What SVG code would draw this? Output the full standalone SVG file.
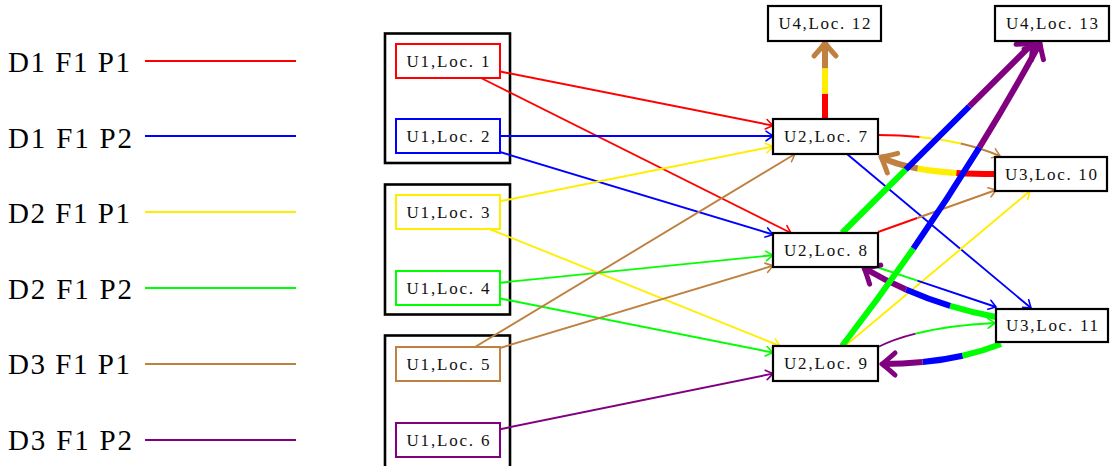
<svg xmlns="http://www.w3.org/2000/svg" width="1114" height="466" viewBox="0 0 1114 466">
<style>
.lg{font-family:"Liberation Serif",serif;font-size:29px;fill:#000}
.nl{font-family:"Liberation Serif",serif;font-size:17px;fill:#111;text-anchor:middle}
.grp{fill:none;stroke:#000;stroke-width:2.6}
.nb{fill:#fff;stroke:#000;stroke-width:2.2}
.cb{fill:#fff;stroke-width:2}
.t{fill:none;stroke-width:1.9}
.k{fill:none;stroke-width:6}
.r{stroke:#ff0000}.b{stroke:#0000ff}.y{stroke:#ffee00}.g{stroke:#00ff00}.w{stroke:#bf8040}.p{stroke:#800080}
</style>
<defs>
<marker id="tr" viewBox="-10 -7 12 14" refX="0" refY="0" markerWidth="12" markerHeight="14" markerUnits="userSpaceOnUse" orient="auto" overflow="visible"><path d="M-7,-4.8 Q-1.5,-1 0,0 Q-1.5,1 -7,4.8" fill="none" stroke="#ff0000" stroke-width="1.6" stroke-linecap="round"/></marker>
<marker id="tb" viewBox="-10 -7 12 14" refX="0" refY="0" markerWidth="12" markerHeight="14" markerUnits="userSpaceOnUse" orient="auto" overflow="visible"><path d="M-7,-4.8 Q-1.5,-1 0,0 Q-1.5,1 -7,4.8" fill="none" stroke="#0000ff" stroke-width="1.6" stroke-linecap="round"/></marker>
<marker id="ty" viewBox="-10 -7 12 14" refX="0" refY="0" markerWidth="12" markerHeight="14" markerUnits="userSpaceOnUse" orient="auto" overflow="visible"><path d="M-7,-4.8 Q-1.5,-1 0,0 Q-1.5,1 -7,4.8" fill="none" stroke="#ffee00" stroke-width="1.6" stroke-linecap="round"/></marker>
<marker id="tg" viewBox="-10 -7 12 14" refX="0" refY="0" markerWidth="12" markerHeight="14" markerUnits="userSpaceOnUse" orient="auto" overflow="visible"><path d="M-7,-4.8 Q-1.5,-1 0,0 Q-1.5,1 -7,4.8" fill="none" stroke="#00ff00" stroke-width="1.6" stroke-linecap="round"/></marker>
<marker id="tw" viewBox="-10 -7 12 14" refX="0" refY="0" markerWidth="12" markerHeight="14" markerUnits="userSpaceOnUse" orient="auto" overflow="visible"><path d="M-7,-4.8 Q-1.5,-1 0,0 Q-1.5,1 -7,4.8" fill="none" stroke="#bf8040" stroke-width="1.6" stroke-linecap="round"/></marker>
<marker id="tp" viewBox="-10 -7 12 14" refX="0" refY="0" markerWidth="12" markerHeight="14" markerUnits="userSpaceOnUse" orient="auto" overflow="visible"><path d="M-7,-4.8 Q-1.5,-1 0,0 Q-1.5,1 -7,4.8" fill="none" stroke="#800080" stroke-width="1.6" stroke-linecap="round"/></marker>
<marker id="kw" viewBox="-20 -16 26 32" refX="0" refY="0" markerWidth="26" markerHeight="32" markerUnits="userSpaceOnUse" orient="auto" overflow="visible"><path d="M-13,-11 Q-3,-2 0,0 Q-3,2 -13,11" fill="none" stroke="#bf8040" stroke-width="5" stroke-linecap="round" stroke-linejoin="round"/></marker>
<marker id="kp" viewBox="-20 -16 26 32" refX="0" refY="0" markerWidth="26" markerHeight="32" markerUnits="userSpaceOnUse" orient="auto" overflow="visible"><path d="M-13,-11 Q-3,-2 0,0 Q-3,2 -13,11" fill="none" stroke="#800080" stroke-width="5" stroke-linecap="round" stroke-linejoin="round"/></marker>
</defs>

<g id="legend">
<text class="lg" x="8" y="72" textLength="122">D1 F1 P1</text>
<line x1="145" y1="61" x2="296" y2="61" stroke="#ff0000" stroke-width="2"/>
<text class="lg" x="8" y="147.5" textLength="124">D1 F1 P2</text>
<line x1="145" y1="136" x2="296" y2="136" stroke="#0000ff" stroke-width="2"/>
<text class="lg" x="8" y="223" textLength="122">D2 F1 P1</text>
<line x1="145" y1="212" x2="296" y2="212" stroke="#ffee00" stroke-width="2"/>
<text class="lg" x="8" y="298.5" textLength="124">D2 F1 P2</text>
<line x1="145" y1="288" x2="296" y2="288" stroke="#00ff00" stroke-width="2"/>
<text class="lg" x="8" y="374" textLength="122">D3 F1 P1</text>
<line x1="145" y1="364" x2="296" y2="364" stroke="#bf8040" stroke-width="2"/>
<text class="lg" x="8" y="450" textLength="124">D3 F1 P2</text>
<line x1="145" y1="440" x2="296" y2="440" stroke="#800080" stroke-width="2"/>
</g>

<g id="groups">
<rect class="grp" x="385" y="33.5" width="125" height="129.5"/>
<rect class="grp" x="385" y="184.5" width="125" height="130"/>
<rect class="grp" x="385" y="335.5" width="125" height="140"/>
</g>

<g id="connectors">
<path class="t r" d="M500,71.5 L773,125.6" marker-end="url(#tr)"/>
<path class="t r" d="M481,78 L791,233" marker-end="url(#tr)"/>
<path class="t b" d="M500,136 L773,136" marker-end="url(#tb)"/>
<path class="t b" d="M500,152 L773,234.5" marker-end="url(#tb)"/>
<path class="t y" d="M500,201.3 L773,146.5" marker-end="url(#ty)"/>
<path class="t y" d="M489.5,229 L780,346" marker-end="url(#ty)"/>
<path class="t g" d="M500,282.7 L773,255.2" marker-end="url(#tg)"/>
<path class="t g" d="M500,298.5 L773,352.6" marker-end="url(#tg)"/>
<path class="t w" d="M475,347 L795,154" marker-end="url(#tw)"/>
<path class="t w" d="M500,348 L773,265.7" marker-end="url(#tw)"/>
<path class="t p" d="M500,429.2 L773,373.6" marker-end="url(#tp)"/>

<path class="t b" d="M847,154 L1031,308" marker-end="url(#tb)"/>
<path class="t y" d="M845,346 L1030,191" marker-end="url(#ty)"/>

<path class="t r" pathLength="90" stroke-dasharray="30 90" d="M878,232 L996,190"/>
<path class="t w" pathLength="90" stroke-dasharray="0 30 60 90" d="M878,232 L996,190" marker-end="url(#tw)"/>

<path class="t r" pathLength="90" stroke-dasharray="30 90" d="M878,135 Q950,135 1000,156"/>
<path class="t y" pathLength="90" stroke-dasharray="0 30 30 90" d="M878,135 Q950,135 1000,156"/>
<path class="t w" pathLength="90" stroke-dasharray="0 60 30 90" d="M878,135 Q950,135 1000,156" marker-end="url(#tw)"/>

<path class="t g" pathLength="90" stroke-dasharray="30 90" d="M878,267.5 L996,307"/>
<path class="t b" pathLength="90" stroke-dasharray="0 30 60 90" d="M878,267.5 L996,307" marker-end="url(#tb)"/>

<path class="t p" pathLength="90" stroke-dasharray="30 90" d="M878,347 Q918,327 995,323"/>
<path class="t g" pathLength="90" stroke-dasharray="0 30 60 90" d="M878,347 Q918,327 995,323" marker-end="url(#tg)"/>

<path class="k r" pathLength="90" stroke-dasharray="30 90" d="M825,119 L825,43"/>
<path class="k y" pathLength="90" stroke-dasharray="0 30 30 90" d="M825,119 L825,43"/>
<path class="k w" pathLength="90" stroke-dasharray="0 60 30 90" d="M825,119 L825,43" marker-end="url(#kw)"/>

<path class="k r" pathLength="90" stroke-dasharray="30 90" d="M995,174 Q913,174 881,157"/>
<path class="k y" pathLength="90" stroke-dasharray="0 30 30 90" d="M995,174 Q913,174 881,157"/>
<path class="k w" pathLength="90" stroke-dasharray="0 60 30 90" d="M995,174 Q913,174 881,157" marker-end="url(#kw)"/>

<path class="k g" pathLength="90" stroke-dasharray="30 90" d="M996,317 Q925,304 864,268"/>
<path class="k b" pathLength="90" stroke-dasharray="0 30 30 90" d="M996,317 Q925,304 864,268"/>
<path class="k p" pathLength="90" stroke-dasharray="0 60 30 90" d="M996,317 Q925,304 864,268" marker-end="url(#kp)"/>

<path class="k g" pathLength="90" stroke-dasharray="30 90" d="M1001,344 Q950,364 882,364"/>
<path class="k b" pathLength="90" stroke-dasharray="0 30 30 90" d="M1001,344 Q950,364 882,364"/>
<path class="k p" pathLength="90" stroke-dasharray="0 60 30 90" d="M1001,344 Q950,364 882,364" marker-end="url(#kp)"/>

<path class="k g" pathLength="90" stroke-dasharray="30 90" d="M842,233 L1033,43"/>
<path class="k b" pathLength="90" stroke-dasharray="0 30 30 90" d="M842,233 L1033,43"/>
<path class="k p" pathLength="90" stroke-dasharray="0 60 30 90" d="M842,233 L1033,43" marker-end="url(#kp)"/>

<path class="k g" pathLength="90" stroke-dasharray="30 90" d="M842,346 Q954,201 1040,43"/>
<path class="k b" pathLength="90" stroke-dasharray="0 30 30 90" d="M842,346 Q954,201 1040,43"/>
<path class="k p" pathLength="90" stroke-dasharray="0 60 30 90" d="M842,346 Q954,201 1040,43" marker-end="url(#kp)"/>
</g>

<g id="n1"><rect class="cb r" x="396" y="44" width="104" height="34"/><text class="nl" x="448" y="66.5" textLength="83">U1,Loc. 1</text></g>
<g id="n2"><rect class="cb b" x="396" y="119" width="104" height="34"/><text class="nl" x="448" y="141.5" textLength="83">U1,Loc. 2</text></g>
<g id="n3"><rect class="cb y" x="396" y="195" width="104" height="34"/><text class="nl" x="448" y="217.5" textLength="83">U1,Loc. 3</text></g>
<g id="n4"><rect class="cb g" x="396" y="271" width="104" height="34"/><text class="nl" x="448" y="293.5" textLength="83">U1,Loc. 4</text></g>
<g id="n5"><rect class="cb w" x="396" y="347" width="104" height="34"/><text class="nl" x="448" y="369.5" textLength="83">U1,Loc. 5</text></g>
<g id="n6"><rect class="cb p" x="396" y="423" width="104" height="34"/><text class="nl" x="448" y="445.5" textLength="83">U1,Loc. 6</text></g>
<g id="n7"><rect class="nb" x="773" y="119" width="105" height="35"/><text class="nl" x="825.5" y="142" textLength="83">U2,Loc. 7</text></g>
<g id="n8"><rect class="nb" x="773" y="233" width="105" height="34"/><text class="nl" x="825.5" y="255.5" textLength="83">U2,Loc. 8</text></g>
<g id="n9"><rect class="nb" x="773" y="346" width="105" height="35"/><text class="nl" x="825.5" y="369" textLength="83">U2,Loc. 9</text></g>
<g id="n10"><rect class="nb" x="995" y="157" width="112" height="34"/><text class="nl" x="1051" y="179.5" textLength="92">U3,Loc. 10</text></g>
<g id="n11"><rect class="nb" x="996" y="309" width="112" height="33"/><text class="nl" x="1052" y="331" textLength="92">U3,Loc. 11</text></g>
<g id="n12"><rect class="nb" x="768" y="6" width="113" height="35"/><text class="nl" x="824.5" y="29" textLength="92">U4,Loc. 12</text></g>
<g id="n13"><rect class="nb" x="995" y="6" width="114" height="35"/><text class="nl" x="1052" y="29" textLength="92">U4,Loc. 13</text></g>
</svg>
